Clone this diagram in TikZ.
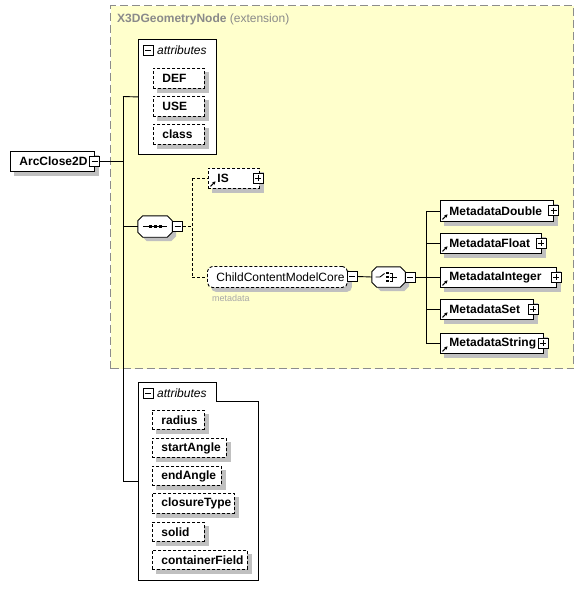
\documentclass[tikz,border=0pt]{standalone}
\usepackage{fontspec}
\setmainfont{Liberation Sans}
\usetikzlibrary{arrows.meta}
\pgfdeclarelayer{bg}
\pgfdeclarelayer{shadowlayer}
\pgfsetlayers{bg,shadowlayer,main}
\definecolor{extfill}{HTML}{FFFFCC}
\definecolor{extline}{HTML}{8C8C8C}
\definecolor{titlec}{HTML}{8A8A8A}
\definecolor{boxshadow}{HTML}{C0C0C0}
\definecolor{metagray}{HTML}{A8A8A8}
\tikzset{
  lw/.style={line width=0.9pt},
  elembox/.style={lw, draw=black, fill=white, anchor=north west, inner xsep=9pt, inner ysep=0pt,
     align=left, font=\fontsize{12}{14}\selectfont\bfseries},
  optbox/.style={elembox, dash pattern=on 3pt off 2pt},
  pmbox/.style={lw, draw=black, fill=white, solid, minimum size=10pt, inner sep=0pt, anchor=center},
  minusbox/.style={pmbox, path picture={\draw[lw, solid] ([xshift=2pt]path picture bounding box.west) -- ([xshift=-2pt]path picture bounding box.east);}},
  plusbox/.style={pmbox, path picture={\draw[lw, solid] ([xshift=2pt]path picture bounding box.west) -- ([xshift=-2pt]path picture bounding box.east);
      \draw[lw, solid] ([yshift=-2pt]path picture bounding box.north) -- ([yshift=2pt]path picture bounding box.south);}},
  compframe/.style={draw=none, fill=none, inner sep=0pt, anchor=center},
  compout/.style={lw, draw=black, fill=white},
  conn/.style={lw, draw=black},
  dconn/.style={lw, draw=black, dash pattern=on 3pt off 2pt},
  refarr/.style={line width=1pt, -{Stealth[length=3.2pt,width=3.6pt]}},
  attrhead/.style={anchor=west, inner sep=0pt, font=\fontsize{12}{14}\selectfont\itshape},
  shadowfill/.style={fill=boxshadow, draw=none},
}
\begin{document}
\begin{tikzpicture}[x=1pt,y=-1pt]
\begin{pgfonlayer}{bg}
\fill[white] (0,0) rectangle (585,600);
% extension box
\node[draw=extline, fill=extfill, dash pattern=on 8pt off 4pt, line width=1pt, minimum width=463, minimum height=363,
      anchor=north west, inner sep=0pt] (ext) at (110,5) {};
\node[anchor=west, inner sep=0pt, text=titlec, font=\fontsize{12}{14}\selectfont] (title) at (117,19.5)
      {\textbf{X3DGeometryNode} (extension)};
% attribute group frames
\node[lw, draw=black, fill=white, minimum width=78, minimum height=115, anchor=north west, inner sep=0pt] (attr1) at (138,39) {};
\draw[lw, fill=white] (138,382) -- (216,382) -- (216,401) -- (258,401) -- (258,580) -- (138,580) -- cycle;
\end{pgfonlayer}
\useasboundingbox (0,0) rectangle (585,600);

% root element
\node[elembox, minimum height=20, text width=66] (arc) at (10,151) {ArcClose2D};
\node[minusbox] (arcm) at (94.5,161) {};

% attributes group 1
\node[minusbox] (attr1m) at (148,50) {};
\node[attrhead] (attr1t) at (157,50) {attributes};
\node[optbox, minimum height=20, text width=33] (def) at (153,68) {DEF};
\node[optbox, minimum height=20, text width=33] (use) at (153,96) {USE};
\node[optbox, minimum height=20, text width=33] (class) at (153,124) {class};

% sequence compositor
\node[compframe, minimum width=34, minimum height=21] (seq) at (155,226.5) {};
\foreach \dx/\dy/\sty in {4pt/-4pt/shadowfill, 0pt/0pt/compout}{
  \path[\sty] ([shift={(\dx,\dy)}]seq.north west) ++(0pt,-5pt) -- ++(5pt,5pt) -- ([shift={(\dx-5pt,\dy)}]seq.north east)
     -- ++(5pt,-5pt) -- ([shift={(\dx,\dy+5pt)}]seq.south east) -- ++(-5pt,-5pt) -- ([shift={(\dx+5pt,\dy)}]seq.south west)
     -- ++(-5pt,5pt) -- cycle;
}
\node[minusbox] (seqm) at (177.5,226.5) {};
\draw[lw] ([xshift=-12pt]seq.center) -- ([xshift=12pt]seq.center);
\fill ([shift={(-6.5pt,-1.5pt)}]seq.center) rectangle ++(3pt,3pt);
\fill ([shift={(-1.5pt,-1.5pt)}]seq.center) rectangle ++(3pt,3pt);
\fill ([shift={(3.5pt,-1.5pt)}]seq.center) rectangle ++(3pt,3pt);

% IS
\node[optbox, minimum height=20, text width=33] (is) at (208,168) {IS};
\node[plusbox] (ism) at (258,178) {};
\draw[refarr] ([shift={(2.5pt,2.5pt)}]is.south west) -- ++(5pt,5pt);

% ChildContentModelCore
\node[optbox, rounded corners=5pt, minimum height=21, text width=122, font=\fontsize{12}{14}\selectfont] (ccmc) at (207,266) {ChildContentModelCore};
\node[minusbox] (ccmcm) at (352,276.5) {};
\node[anchor=west, inner sep=0pt, text=metagray, font=\fontsize{9}{11}\selectfont] (mdlabel) at (212,298) {metadata};

% choice compositor
\node[compframe, minimum width=33, minimum height=20] (choice) at (388.5,277) {};
\foreach \dx/\dy/\sty in {4pt/-4pt/shadowfill, 0pt/0pt/compout}{
  \path[\sty] ([shift={(\dx,\dy)}]choice.north west) ++(0pt,-5pt) -- ++(5pt,5pt) -- ([shift={(\dx-5pt,\dy)}]choice.north east)
     -- ++(5pt,-5pt) -- ([shift={(\dx,\dy+5pt)}]choice.south east) -- ++(-5pt,-5pt) -- ([shift={(\dx+5pt,\dy)}]choice.south west)
     -- ++(-5pt,5pt) -- cycle;
}
\node[minusbox] (choicem) at (410,277) {};
\draw[lw] ([xshift=-13pt]choice.center) -- ([xshift=-8.5pt]choice.center) -- ([shift={(-4pt,3.5pt)}]choice.center);
\fill ([shift={(-2.4pt,2.6pt)}]choice.center) rectangle ++(2.4pt,2.4pt);
\fill ([shift={(-2.4pt,-1.2pt)}]choice.center) rectangle ++(2.4pt,2.4pt);
\fill ([shift={(-2.4pt,-5pt)}]choice.center) rectangle ++(2.4pt,2.4pt);
\draw[lw] ([shift={(1pt,4pt)}]choice.center) -- ([shift={(4pt,4pt)}]choice.center) -- ([shift={(4pt,-4pt)}]choice.center) -- ([shift={(1pt,-4pt)}]choice.center);
\draw[lw] ([shift={(1pt,0pt)}]choice.center) -- ([shift={(8pt,0pt)}]choice.center);

% Metadata elements
\node[elembox, minimum height=21, text width=95] (md) at (440,200) {MetadataDouble};
\node[plusbox] (mdm) at (553.5,210.5) {};
\node[elembox, minimum height=20, text width=83] (mf) at (440,233) {MetadataFloat};
\node[plusbox] (mfm) at (541,243) {};
\node[elembox, minimum height=20, text width=98] (mi) at (440,267) {MetadataInteger};
\node[plusbox] (mim) at (556,277) {};
\node[elembox, minimum height=20, text width=75] (ms) at (440,299) {MetadataSet};
\node[plusbox] (msm) at (533,309) {};
\node[elembox, minimum height=20, text width=85] (mstr) at (440,333) {MetadataString};
\node[plusbox] (mstrm) at (543,343) {};
\foreach \n in {md,mf,mi,ms,mstr}{
  \draw[refarr] ([shift={(2.5pt,2.5pt)}]\n.south west) -- ++(5pt,5pt);
}

% attributes group 2
\coordinate (attr2) at (138,481);
\node[minusbox] (attr2m) at (148,393) {};
\node[attrhead] (attr2t) at (157,393) {attributes};
\node[optbox, minimum height=19, text width=34] (radius) at (152,410) {radius};
\node[optbox, minimum height=19, text width=56] (start) at (152,438) {startAngle};
\node[optbox, minimum height=19, text width=51] (endang) at (152,466) {endAngle};
\node[optbox, minimum height=20, text width=64] (closure) at (152,493) {closureType};
\node[optbox, minimum height=19, text width=34] (solidn) at (152,522) {solid};
\node[optbox, minimum height=19, text width=77] (cfield) at (152,550) {containerField};

% drop shadows of the boxes
\begin{pgfonlayer}{shadowlayer}
\foreach \n in {arc,def,use,class,is,md,mf,mi,ms,mstr,radius,start,endang,closure,solidn,cfield}{
  \fill[boxshadow] ([shift={(4pt,-4pt)}]\n.south west) rectangle ([shift={(4pt,-4pt)}]\n.north east);
}
\fill[boxshadow, rounded corners=5pt] ([shift={(4pt,-4pt)}]ccmc.south west) rectangle ([shift={(4pt,-4pt)}]ccmc.north east);
\end{pgfonlayer}

% connectors
\coordinate (jtop) at (123,96.5);
\coordinate (jbot) at (123,481);
\draw[conn] (arcm.east) -- (arcm.east -| jtop);
\draw[conn] (jtop) -- (jbot);
\draw[conn] (jtop) -- (attr1.west);
\draw[conn] (jtop |- seq.west) -- (seq.west);
\draw[conn] (jbot) -- (attr2);

\coordinate (sj) at (192,226.5);
\draw[dconn] (seqm.east) -- (sj);
\draw[dconn] (sj |- is.west) -- (sj |- ccmc.west);
\draw[dconn] (sj |- is.west) -- (is.west);
\draw[dconn] (sj |- ccmc.west) -- (ccmc.west);

\draw[conn] (ccmcm.east) -- (choice.west);
\coordinate (bus) at (426,277);
\draw[conn] (choicem.east) -- (bus);
\draw[conn] (bus |- md.west) -- (bus |- mstr.west);
\foreach \n in {md,mf,mi,ms,mstr}{
  \draw[conn] (bus |- \n.west) -- (\n.west);
}
\end{tikzpicture}
\end{document}
